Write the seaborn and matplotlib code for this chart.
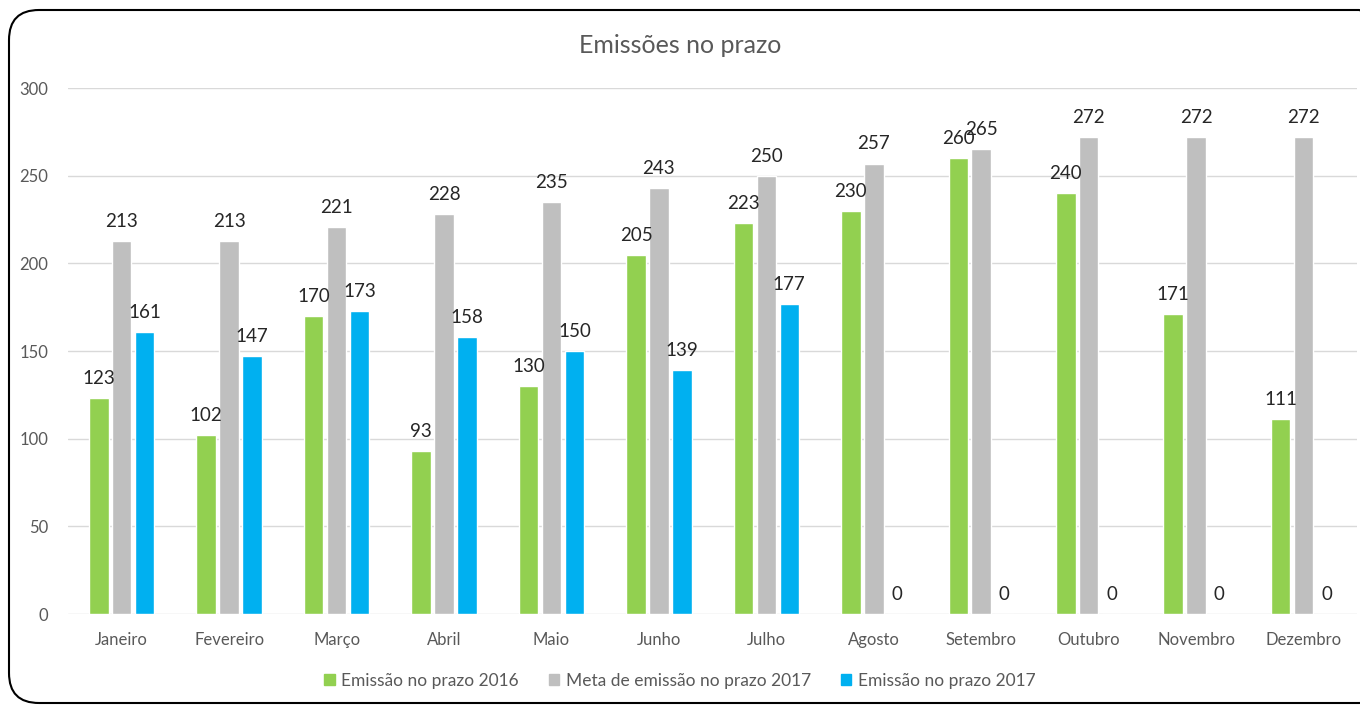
import pandas as pd
import numpy as np
import matplotlib.pyplot as plt
import seaborn as sns
from matplotlib.patches import FancyBboxPatch, Patch

months = ["Janeiro", "Fevereiro", "Março", "Abril", "Maio", "Junho",
          "Julho", "Agosto", "Setembro", "Outubro", "Novembro", "Dezembro"]
series = ["Emissão no prazo 2016", "Meta de emissão no prazo 2017", "Emissão no prazo 2017"]
emissao_2016 = [123, 102, 170, 93, 130, 205, 223, 230, 260, 240, 171, 111]
meta_2017 = [213, 213, 221, 228, 235, 243, 250, 257, 265, 272, 272, 272]
emissao_2017 = [161, 147, 173, 158, 150, 139, 177, 0, 0, 0, 0, 0]
colors = ["#92D050", "#BFBFBF", "#00B0F0"]

data = pd.DataFrame({
    "mes": months * 3,
    "serie": [series[0]] * 12 + [series[1]] * 12 + [series[2]] * 12,
    "valor": emissao_2016 + meta_2017 + emissao_2017,
})

sns.set_style("white")
plt.rcParams['font.family'] = ['Lato', 'DejaVu Sans']

fig = plt.figure(figsize=(13.6, 7.05), dpi=100)
ax = fig.add_axes([0.05, 0.129, 0.948, 0.746])

sns.barplot(data=data, x="mes", y="valor", hue="serie", order=months,
            hue_order=series, palette=colors, width=0.64, gap=0.15,
            saturation=1, ax=ax, legend=False)

# rótulos de valor acima das barras (260/265 se sobrepõem no original também)
for cont in ax.containers:
    ax.bar_label(cont, fmt="%d", padding=8, fontsize=13.5, color="#262626")

ax.set_ylim(0, 300)
ax.set_yticks(range(0, 301, 50))
ax.yaxis.grid(True, color="#D9D9D9", linewidth=1)
ax.set_axisbelow(True)
for s in ax.spines.values():
    s.set_visible(False)
ax.tick_params(axis="both", length=0, labelsize=12, labelcolor="#595959")
ax.tick_params(axis="x", pad=13)
ax.tick_params(axis="y", pad=14)
ax.set_xlabel("")
ax.set_ylabel("")
ax.set_xlim(-0.5, 11.5)

fig.text(0.5, 0.936, "Emissões no prazo", ha="center", va="center",
         fontsize=18, color="#595959")

handles = [Patch(color=c, label=l) for c, l in zip(colors, series)]
fig.legend(handles=handles, loc="center", bbox_to_anchor=(0.5, 0.034), ncol=3,
           frameon=False, fontsize=12.5, handlelength=0.6, handleheight=0.6,
           handletextpad=0.4, columnspacing=1.7, labelcolor="#595959")

border = FancyBboxPatch((0.09, 0.02), 13.8, 6.93, boxstyle="round,pad=0,rounding_size=0.3",
                        transform=fig.dpi_scale_trans, fill=False, edgecolor="black",
                        linewidth=1.5)
fig.patches.append(border)

fig.savefig("out.png", dpi=100)
